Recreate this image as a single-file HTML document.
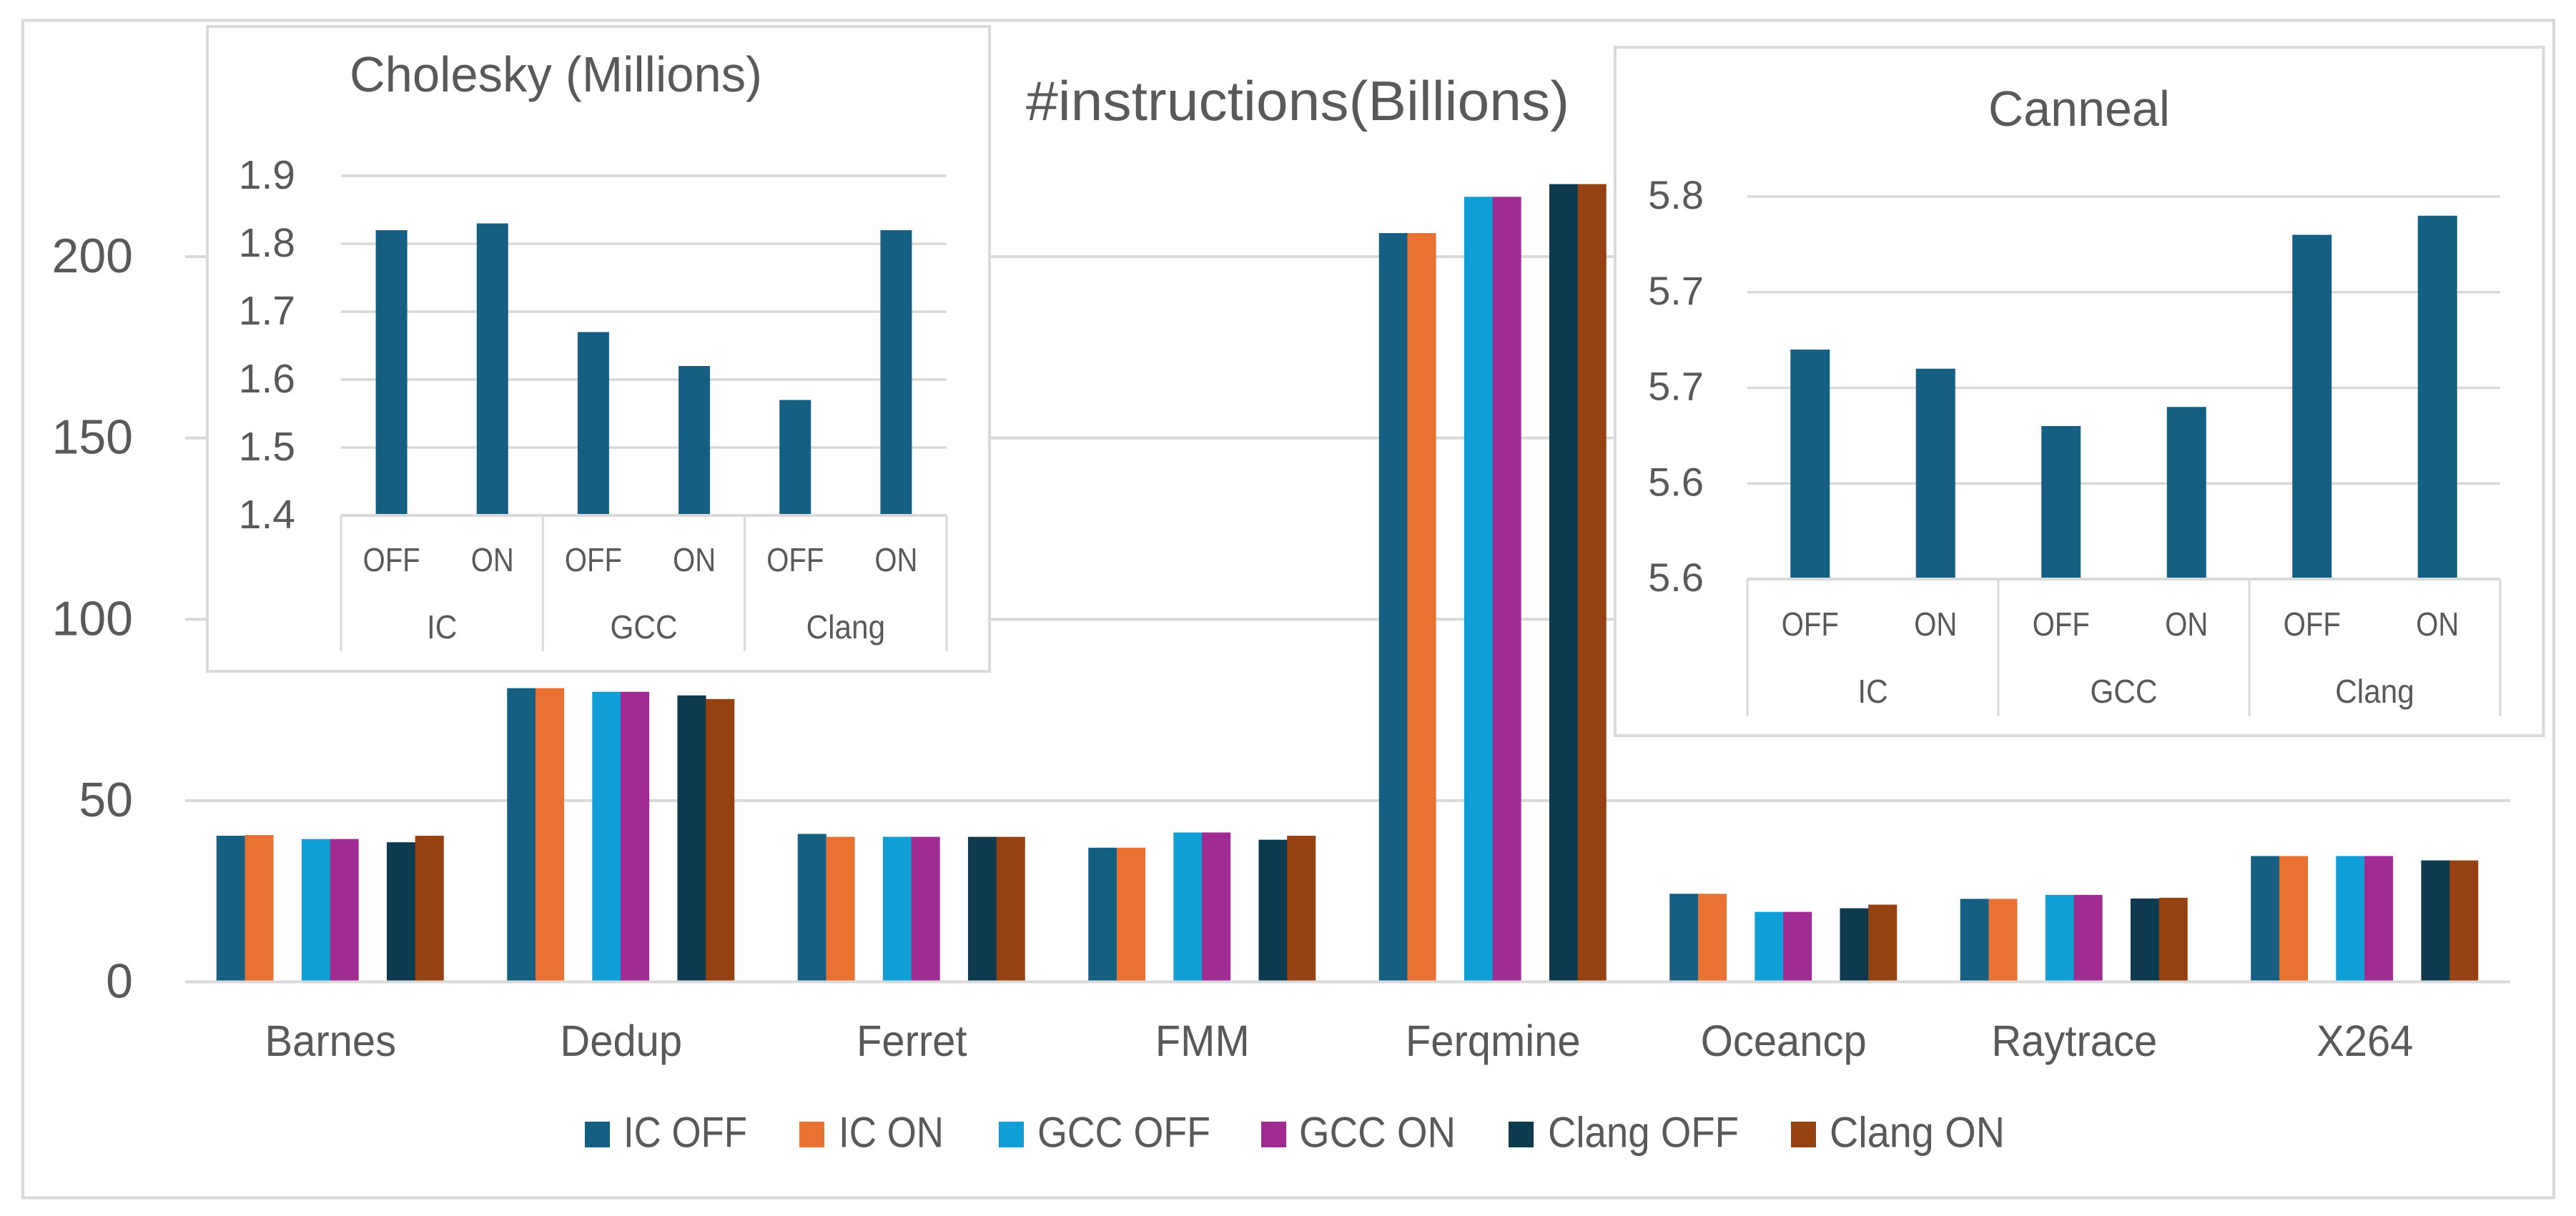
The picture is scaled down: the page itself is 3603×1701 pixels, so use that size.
<!DOCTYPE html>
<html lang="en">
<head>
<meta charset="utf-8">
<title>#instructions(Billions)</title>
<style>
html,body{margin:0;padding:0;background:#fff}
svg{display:block}
text{font-family:"Liberation Sans",sans-serif;fill:#595959}
</style>
</head>
<body>
<svg id="chart" xmlns="http://www.w3.org/2000/svg" width="3603" height="1701" viewBox="0 0 3603 1701">
  <rect x="0" y="0" width="3603" height="1701" fill="#fff"/>
  <rect x="32" y="28.5" width="3540" height="1647" fill="#fff" stroke="#d9d9d9" stroke-width="4"/>
  <g id="main-chart"></g>
  <text x="1435" y="168" font-size="78" textLength="760" lengthAdjust="spacingAndGlyphs">#instructions(Billions)</text>
  <g>
    <g>
      <rect x="818" y="1569" width="35" height="36" fill="#156082"/>
      <text x="872" y="1604.5" font-size="60" textLength="173" lengthAdjust="spacingAndGlyphs">IC OFF</text>
    </g>
    <g>
      <rect x="1118" y="1569" width="35" height="36" fill="#E97132"/>
      <text x="1173" y="1604.5" font-size="60" textLength="147" lengthAdjust="spacingAndGlyphs">IC ON</text>
    </g>
    <g>
      <rect x="1397" y="1569" width="35" height="36" fill="#0F9ED5"/>
      <text x="1451" y="1604.5" font-size="60" textLength="242" lengthAdjust="spacingAndGlyphs">GCC OFF</text>
    </g>
    <g>
      <rect x="1764" y="1569" width="35" height="36" fill="#A02B93"/>
      <text x="1817" y="1604.5" font-size="60" textLength="219" lengthAdjust="spacingAndGlyphs">GCC ON</text>
    </g>
    <g>
      <rect x="2110" y="1569" width="35" height="36" fill="#0D3A4E"/>
      <text x="2165" y="1604.5" font-size="60" textLength="267" lengthAdjust="spacingAndGlyphs">Clang OFF</text>
    </g>
    <g>
      <rect x="2505" y="1569" width="35" height="36" fill="#954110"/>
      <text x="2559" y="1604.5" font-size="60" textLength="245" lengthAdjust="spacingAndGlyphs">Clang ON</text>
    </g>
  </g>
  <g id="cholesky-inset">
    <rect x="290" y="37" width="1094" height="902" fill="#fff" stroke="#d9d9d9" stroke-width="4"/>
    <text x="489" y="128" font-size="70" textLength="577" lengthAdjust="spacingAndGlyphs">Cholesky (Millions)</text>
  </g>
  <g id="canneal-inset">
    <rect x="2259" y="66" width="1298.5" height="963" fill="#fff" stroke="#d9d9d9" stroke-width="4"/>
    <text x="2781" y="176" font-size="70" textLength="254" lengthAdjust="spacingAndGlyphs">Canneal</text>
  </g>
</svg>
<script>
// Main chart data (billions of instructions)
const categories = ['Barnes', 'Dedup', 'Ferret', 'FMM', 'Ferqmine', 'Oceancp', 'Raytrace', 'X264'];
const icOff = [40.3, 81, 40.8, 37, 206.5, 24.3, 22.9, 34.7];
const icOn = [40.5, 81, 40, 37, 206.5, 24.3, 22.9, 34.7];
const gccOff = [39.4, 80, 40, 41.2, 216.5, 19.3, 24, 34.7];
const gccOn = [39.4, 80, 40, 41.2, 216.5, 19.3, 24, 34.7];
const clangOff = [38.5, 79, 40, 39.2, 220, 20.3, 23, 33.5];
const clangOn = [40.3, 78, 40, 40.3, 220, 21.3, 23.2, 33.5];
const seriesNames = ['ic-off', 'ic-on', 'gcc-off', 'gcc-on', 'clang-off', 'clang-on'];
const mainTicks = [0, 50, 100, 150, 200];

// Cholesky inset data (millions)
const optionLabels = ['OFF', 'ON', 'OFF', 'ON', 'OFF', 'ON'];
const compilerLabels = ['IC', 'GCC', 'Clang'];
const choleskyValues = [1.82, 1.83, 1.67, 1.62, 1.57, 1.82];
const choleskyTicks = [1.4, 1.5, 1.6, 1.7, 1.8, 1.9];
const choleskyTickLabels = ['1.4', '1.5', '1.6', '1.7', '1.8', '1.9'];

// Canneal inset data
const cannealValues = [5.72, 5.71, 5.68, 5.69, 5.78, 5.79];
const cannealTicks = [5.6, 5.65, 5.7, 5.75, 5.8];
const cannealTickLabels = ['5.6', '5.6', '5.7', '5.7', '5.8'];

const NS = 'http://www.w3.org/2000/svg';
const GRID = '#d9d9d9';
const seriesColors = ['#156082', '#E97132', '#0F9ED5', '#A02B93', '#0D3A4E', '#954110'];
const seriesValues = [icOff, icOn, gccOff, gccOn, clangOff, clangOn];

function make(tag, attrs, parent) {
  const e = document.createElementNS(NS, tag);
  for (const k in attrs) e.setAttribute(k, attrs[k]);
  parent.appendChild(e);
  return e;
}
function line(parent, x1, y1, x2, y2, w) {
  return make('line', { x1: x1, y1: y1, x2: x2, y2: y2, stroke: GRID, 'stroke-width': w }, parent);
}
function label(parent, x, y, str, size, anchor, sx) {
  const t = make('text', { transform: 'translate(' + x + ',' + y + ') scale(' + sx + ',1)', 'font-size': size, 'text-anchor': anchor }, parent);
  t.textContent = str;
  return t;
}

/* ---------- main chart ---------- */
const mainRoot = document.getElementById('main-chart');
const mainLeft = 259, mainRight = 3511, mainBase = 1373.5, mainTop = 359, mainMax = 200;
const mainY = v => mainBase - (v / mainMax) * (mainBase - mainTop);
const catBand = (mainRight - mainLeft) / categories.length;
const catCenter = i => mainLeft + catBand * (i + 0.5);
const slotW = 39.7;
// six visible bars in eight slots: a blank slot separates each compiler pair
const slotOf = s => Math.floor(s / 2) * 3 + (s % 2);
const mainX = (c, s) => catCenter(c) - 4 * slotW - 0.7 + slotOf(s) * slotW;

mainTicks.forEach(function (t) {
  if (t !== 0) {
    const g = line(mainRoot, mainLeft, mainY(t), mainRight, mainY(t), 4);
    
    
  }
  const l = label(mainRoot, 186, mainY(t) + 22, String(t), 68, 'end', 1);
  
  
});

categories.forEach(function (cat, c) {
  seriesValues.forEach(function (vals, s) {
    const b = make('rect', { x: mainX(c, s), y: mainY(vals[c]), width: slotW + 0.4, height: mainBase - 1.5 - mainY(vals[c]), fill: seriesColors[s] }, mainRoot);
    
    
  });
  const l = label(mainRoot, catCenter(c), 1477, cat, 61, 'middle', 0.95);
  
  
});

const mainAxis = line(mainRoot, mainLeft, mainBase, mainRight, mainBase, 4);



/* ---------- inset charts ---------- */
function drawInset(root, prefix, opt) {
  const yScale = v => opt.base - (v - opt.ticks[0]) / (opt.ticks[opt.ticks.length - 1] - opt.ticks[0]) * (opt.base - opt.top);
  const band = (opt.right - opt.left) / optionLabels.length;
  const center = i => opt.left + band * (i + 0.5);

  opt.ticks.forEach(function (t, i) {
    if (i > 0) {
      const g = line(root, opt.left, yScale(t), opt.right, yScale(t), 3.5);
      
      
    }
    const l = label(root, opt.tickRight, yScale(t) + opt.tickDy, opt.tickLabels[i], opt.tickSize, 'end', 1);
    
    
  });

  opt.values.forEach(function (v, i) {
    const b = make('rect', { x: center(i) - opt.barW / 2, y: yScale(v), width: opt.barW, height: opt.base - 2 - yScale(v), fill: '#156082' }, root);
    
    
    const l = label(root, center(i), opt.optY, optionLabels[i], 46, 'middle', 0.87);
    
    
  });

  const axis = line(root, opt.left, opt.base, opt.right, opt.base, 4);
  
  

  compilerLabels.forEach(function (name, g) {
    const cx = opt.left + band * (2 * g + 1);
    const l = label(root, cx, opt.groupY, name, 46, 'middle', 0.92);
    
    
  });
  for (let g = 0; g <= compilerLabels.length; g++) {
    const x = opt.left + band * 2 * g;
    const d = line(root, x, opt.base, x, opt.divBottom, 3);
    
    
  }
}

drawInset(document.getElementById('cholesky-inset'), 'cholesky', {
  left: 477, right: 1324, base: 721, top: 246, barW: 44,
  ticks: choleskyTicks, tickLabels: choleskyTickLabels, values: choleskyValues,
  tickRight: 413, tickDy: 18, tickSize: 57, optY: 799, groupY: 893, divBottom: 911
});
drawInset(document.getElementById('canneal-inset'), 'canneal', {
  left: 2444, right: 3497, base: 810, top: 275, barW: 55,
  ticks: cannealTicks, tickLabels: cannealTickLabels, values: cannealValues,
  tickRight: 2383, tickDy: 17, tickSize: 56, optY: 889, groupY: 983, divBottom: 1002
});
</script>
</body>
</html>
